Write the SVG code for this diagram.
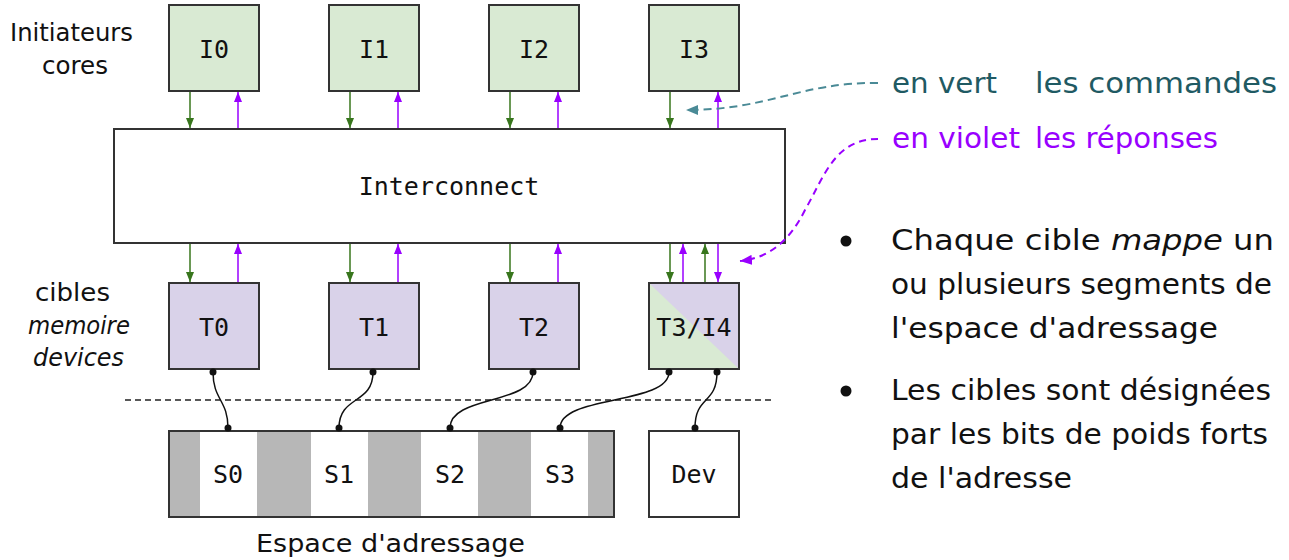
<svg xmlns="http://www.w3.org/2000/svg" width="1289" height="560" viewBox="0 0 1289 560">
<style>
.box{stroke:#333;stroke-width:2}
.gbox{fill:#d9ead3}
.pbox{fill:#d9d2e9}
.wbox{fill:#fff}
.mono{font-family:"DejaVu Sans Mono","Liberation Mono",monospace;font-size:25px;fill:#111;text-anchor:middle}
.sans{font-family:"DejaVu Sans","Liberation Sans",sans-serif;font-size:25px;fill:#111}
.rt{font-family:"DejaVu Sans","Liberation Sans",sans-serif;font-size:28px;fill:#111}
.g{stroke:#38761d;stroke-width:1.5;fill:none;marker-end:url(#ag)}
.p{stroke:#9900ff;stroke-width:1.5;fill:none;marker-end:url(#ap)}
.wire{stroke:#111;stroke-width:1.5;fill:none}
.dot{fill:#111}
</style>
<defs>
<marker id="ag" markerUnits="userSpaceOnUse" markerWidth="10" markerHeight="8" refX="10" refY="4" orient="auto"><path d="M0,0 L10,4 L0,8 z" fill="#38761d"/></marker>
<marker id="ap" markerUnits="userSpaceOnUse" markerWidth="10" markerHeight="8" refX="10" refY="4" orient="auto"><path d="M0,0 L10,4 L0,8 z" fill="#9900ff"/></marker>
<marker id="at" markerUnits="userSpaceOnUse" markerWidth="14" markerHeight="10" refX="12" refY="5" orient="auto"><path d="M0,0 L12,5 L0,10 z" fill="#4a8a96"/></marker>
<marker id="apd" markerUnits="userSpaceOnUse" markerWidth="14" markerHeight="10" refX="12" refY="5" orient="auto"><path d="M0,0 L12,5 L0,10 z" fill="#9900ff"/></marker>
</defs>

<g id="labels-left">
<text class="sans" x="10" y="41" textLength="123" lengthAdjust="spacingAndGlyphs">Initiateurs</text>
<text class="sans" x="42" y="74" textLength="66" lengthAdjust="spacingAndGlyphs">cores</text>
<text class="sans" x="35" y="301" textLength="75" lengthAdjust="spacingAndGlyphs">cibles</text>
<text class="sans" x="28" y="334" font-style="italic" textLength="102" lengthAdjust="spacingAndGlyphs">memoire</text>
<text class="sans" x="33" y="366" font-style="italic" textLength="91" lengthAdjust="spacingAndGlyphs">devices</text>
<text class="sans" x="256" y="552" textLength="269" lengthAdjust="spacingAndGlyphs">Espace d'adressage</text>
</g>

<g id="I0"><rect class="box gbox" x="169" y="5" width="90" height="86"/><text class="mono" x="214" y="58">I0</text></g>
<g id="I1"><rect class="box gbox" x="329" y="5" width="90" height="86"/><text class="mono" x="374" y="58">I1</text></g>
<g id="I2"><rect class="box gbox" x="489" y="5" width="90" height="86"/><text class="mono" x="534" y="58">I2</text></g>
<g id="I3"><rect class="box gbox" x="649" y="5" width="90" height="86"/><text class="mono" x="694" y="58">I3</text></g>

<g id="interconnect"><rect class="box wbox" x="114" y="129" width="671" height="114"/><text class="mono" x="449" y="195">Interconnect</text></g>

<g id="T0"><rect class="box pbox" x="169" y="283" width="90" height="86"/><text class="mono" x="214" y="336">T0</text></g>
<g id="T1"><rect class="box pbox" x="329" y="283" width="90" height="86"/><text class="mono" x="374" y="336">T1</text></g>
<g id="T2"><rect class="box pbox" x="489" y="283" width="90" height="86"/><text class="mono" x="534" y="336">T2</text></g>
<g id="T3I4">
<rect x="649" y="283" width="90" height="86" fill="#d9ead3"/>
<path d="M649,283 L739,283 L739,369 z" fill="#d9d2e9"/>
<rect class="box" x="649" y="283" width="90" height="86" fill="none"/>
<text class="mono" x="694" y="336">T3/I4</text>
</g>

<g id="memory">
<rect x="169" y="431" width="445" height="86" fill="#b7b7b7"/>
<rect x="200" y="431" width="57" height="86" fill="#fff"/>
<rect x="311" y="431" width="57" height="86" fill="#fff"/>
<rect x="421" y="431" width="57" height="86" fill="#fff"/>
<rect x="531" y="431" width="57" height="86" fill="#fff"/>
<rect class="box" x="169" y="431" width="445" height="86" fill="none"/>
<text class="mono" x="228" y="483">S0</text>
<text class="mono" x="339" y="483">S1</text>
<text class="mono" x="450" y="483">S2</text>
<text class="mono" x="560" y="483">S3</text>
</g>
<g id="Dev"><rect class="box wbox" x="649" y="431" width="90" height="86"/><text class="mono" x="694" y="483">Dev</text></g>

<g id="connectors">
<line class="g" x1="190" y1="92" x2="190" y2="128"/>
<line class="p" x1="238" y1="128" x2="238" y2="92"/>
<line class="g" x1="350" y1="92" x2="350" y2="128"/>
<line class="p" x1="398" y1="128" x2="398" y2="92"/>
<line class="g" x1="510" y1="92" x2="510" y2="128"/>
<line class="p" x1="558" y1="128" x2="558" y2="92"/>
<line class="g" x1="670" y1="92" x2="670" y2="128"/>
<line class="p" x1="718" y1="128" x2="718" y2="92"/>

<line class="g" x1="190" y1="244" x2="190" y2="282"/>
<line class="p" x1="238" y1="282" x2="238" y2="244"/>
<line class="g" x1="350" y1="244" x2="350" y2="282"/>
<line class="p" x1="398" y1="282" x2="398" y2="244"/>
<line class="g" x1="510" y1="244" x2="510" y2="282"/>
<line class="p" x1="558" y1="282" x2="558" y2="244"/>
<line class="g" x1="670" y1="244" x2="670" y2="282"/>
<line class="p" x1="683" y1="282" x2="683" y2="244"/>
<line class="g" x1="705" y1="282" x2="705" y2="244"/>
<line class="p" x1="718" y1="244" x2="718" y2="282"/>

<line x1="125" y1="400" x2="775" y2="400" stroke="#222" stroke-width="1.5" stroke-dasharray="6,4"/>

<path class="wire" d="M213,372 C213,400 228,400 228,428"/>
<path class="wire" d="M373,372 C373,405 339,395 339,428"/>
<path class="wire" d="M533,372 C533,405 450,395 450,428"/>
<path class="wire" d="M669,372 C669,405 560,395 560,428"/>
<path class="wire" d="M717,372 C717,405 695,395 695,428"/>
<circle class="dot" cx="213" cy="372" r="3.5"/><circle class="dot" cx="228" cy="428" r="3.5"/>
<circle class="dot" cx="373" cy="372" r="3.5"/><circle class="dot" cx="339" cy="428" r="3.5"/>
<circle class="dot" cx="533" cy="372" r="3.5"/><circle class="dot" cx="450" cy="428" r="3.5"/>
<circle class="dot" cx="669" cy="372" r="3.5"/><circle class="dot" cx="560" cy="428" r="3.5"/>
<circle class="dot" cx="717" cy="372" r="3.5"/><circle class="dot" cx="695" cy="428" r="3.5"/>

<path d="M878,83 C800,82 770,110 686,110" stroke="#4a8a96" stroke-width="2" fill="none" stroke-dasharray="8,5" marker-end="url(#at)"/>
<path d="M878,139 C835,139 825,175 805,210 C790,240 770,258 740,261" stroke="#9900ff" stroke-width="2" fill="none" stroke-dasharray="7,5" marker-end="url(#apd)"/>
</g>

<g id="legend">
<text class="rt" x="892" y="93" style="fill:#1f5a63" textLength="105" lengthAdjust="spacingAndGlyphs">en vert</text>
<text class="rt" x="1035" y="93" style="fill:#1f5a63" textLength="242" lengthAdjust="spacingAndGlyphs">les commandes</text>
<text class="rt" x="892" y="148" style="fill:#9900ff" textLength="128" lengthAdjust="spacingAndGlyphs">en violet</text>
<text class="rt" x="1035" y="148" style="fill:#9900ff" textLength="183" lengthAdjust="spacingAndGlyphs">les réponses</text>
</g>

<g id="bullets">
<circle cx="846" cy="241" r="5.5" fill="#111"/>
<text class="rt" x="891" y="250" textLength="383" lengthAdjust="spacingAndGlyphs">Chaque cible <tspan font-style="italic">mappe</tspan> un</text>
<text class="rt" x="891" y="294" textLength="381" lengthAdjust="spacingAndGlyphs">ou plusieurs segments de</text>
<text class="rt" x="891" y="338" textLength="327" lengthAdjust="spacingAndGlyphs">l'espace d'adressage</text>
<circle cx="846" cy="391" r="5.5" fill="#111"/>
<text class="rt" x="891" y="400" textLength="380" lengthAdjust="spacingAndGlyphs">Les cibles sont désignées</text>
<text class="rt" x="891" y="444" textLength="377" lengthAdjust="spacingAndGlyphs">par les bits de poids forts</text>
<text class="rt" x="891" y="488" textLength="181" lengthAdjust="spacingAndGlyphs">de l'adresse</text>
</g>
</svg>
